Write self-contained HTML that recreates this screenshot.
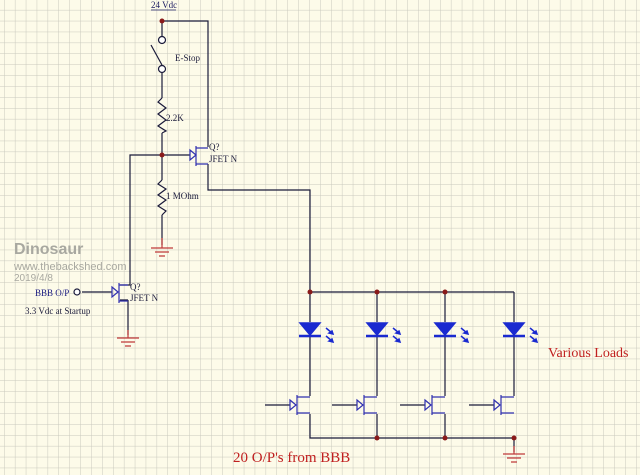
<!DOCTYPE html>
<html><head><style>body{margin:0}svg{display:block}</style></head><body>
<svg width="640" height="475" xmlns="http://www.w3.org/2000/svg" font-family="Liberation Serif, serif">
<defs>
<pattern id="g" x="4" y="-1" width="10.9" height="10.9" patternUnits="userSpaceOnUse">
<path d="M0 0H10.9M0 0V10.9" stroke="#c9c9bd" stroke-width="1" fill="none"/>
</pattern>
</defs>
<rect width="640" height="475" fill="#fdfbe9"/>
<rect width="640" height="475" fill="url(#g)"/>
<g stroke="#1a1a3a" stroke-width="1.2" fill="none">
<!-- top supply -->
<path d="M162 21H208V147"/>
<path d="M162 21V36M162 73V98M162 133V180M162 215V245"/>
<path d="M162 155H130V285H120"/>
<path d="M162 155H190"/>
<path d="M208 164V190H310V292"/>
<path d="M128 300V335M120 300H128"/>
<path d="M82 292H112"/>
<!-- bus -->
<path d="M310 292H514"/>
<path d="M310 292V322M377 292V322M445 292V322M514 292V322"/>
<path d="M310 337V396M377 337V396M445 337V396M514 337V396"/>
<path d="M310 414V438H514V452M377 414V438M445 414V438"/>
<path d="M265 405H290M332 405H357M400 405H425M469 405H494"/>
</g>
<!-- switch -->
<g stroke="#1a1a3a" stroke-width="1.2" fill="#fff">
<circle cx="162" cy="40" r="3.5"/><circle cx="162" cy="69" r="3.5"/>
</g>
<line x1="151" y1="45" x2="162" y2="65" stroke="#1a1a3a" stroke-width="1.2"/>
<!-- resistors -->
<g stroke="#1a1a3a" stroke-width="1.2" fill="none">
<path d="M162 98L158 102L166 108L158 114L166 120L158 126L166 131L162 133"/>
<path d="M162 180L158 184L166 189L158 195L166 200L158 206L166 211L162 215"/>
</g>
<!-- JFETs -->
<g stroke="#3030b0" stroke-width="1.2" fill="none">
<path d="M196 146V166M196 148H208M196 164H208M190 150L196 155L190 160Z"/>
<path d="M119 283V303M119 285H128M119 301H128M112 287L118 292L112 297Z"/>
<path d="M290 400L296 405L290 410Z M297 395V415M297 397H310M297 413H310"/>
<path d="M357 400L363 405L357 410Z M364 395V415M364 397H377M364 413H377"/>
<path d="M425 400L431 405L425 410Z M432 395V415M432 397H445M432 413H445"/>
<path d="M494 400L500 405L494 410Z M501 395V415M501 397H514M501 413H514"/>
</g>
<!-- LEDs -->
<g fill="#1a2ad0" stroke="#1a2ad0" stroke-width="1.5">
<g id="led"><path d="M300 323H320L310 335Z"/><path d="M299 336H321" stroke-width="2.5"/>
<path d="M326 328L332 333M326 336L332 341" fill="none" stroke-width="1.5"/>
<path d="M333 334L329 333L332 331ZM333 342L329 341L332 339Z"/></g>
<use href="#led" x="67"/><use href="#led" x="135"/><use href="#led" x="204"/>
</g>
<!-- dots -->
<g fill="#8a1a1a">
<circle cx="162" cy="21" r="2.5"/><circle cx="162" cy="155" r="2.5"/>
<circle cx="310" cy="292" r="2.5"/><circle cx="377" cy="292" r="2.5"/><circle cx="445" cy="292" r="2.5"/>
<circle cx="377" cy="438" r="2.5"/><circle cx="445" cy="438" r="2.5"/><circle cx="514" cy="438" r="2.5"/>
</g>
<circle cx="77" cy="292" r="3" fill="#fff" stroke="#1a1a3a" stroke-width="1.2"/>
<!-- grounds -->
<g stroke="#c03a3a" stroke-width="1.2">
<path d="M162 238V248M151 248H173M155 252H169M159 256H165"/>
<path d="M128 330V338M117 338H139M121 342H135M125 346H131"/>
<path d="M514 446V454M503 454H525M507 458H521M511 462H517"/>
</g>
<!-- labels -->
<g font-size="9" fill="#1a1a3a">
<text x="151" y="8" fill="#1a1a60">24 Vdc</text>
<line x1="151" y1="10" x2="176" y2="10" stroke="#1a1a60" stroke-width="0.8"/>
<text x="175" y="61">E-Stop</text>
<text x="166" y="121">2.2K</text>
<text x="209" y="150">Q?</text><text x="209" y="162">JFET N</text>
<text x="166" y="199">1 MOhm</text>
<text x="130" y="290">Q?</text><text x="130" y="301">JFET N</text>
<text x="35" y="296" fill="#1a1a80">BBB O/P</text>
<text x="25" y="314">3.3 Vdc at Startup</text>
</g>
<g font-family="Liberation Sans, sans-serif" fill="#a8a8a0">
<text x="14" y="254" font-size="16" font-weight="bold">Dinosaur</text>
<text x="14" y="270" font-size="11">www.thebackshed.com</text>
<text x="14" y="281" font-size="10">2019/4/8</text>
</g>
<text x="548" y="357" font-size="14" fill="#c02020">Various Loads</text>
<text x="233" y="462" font-size="15" fill="#c02020">20 O/P's from BBB</text>
</svg>
</body></html>
